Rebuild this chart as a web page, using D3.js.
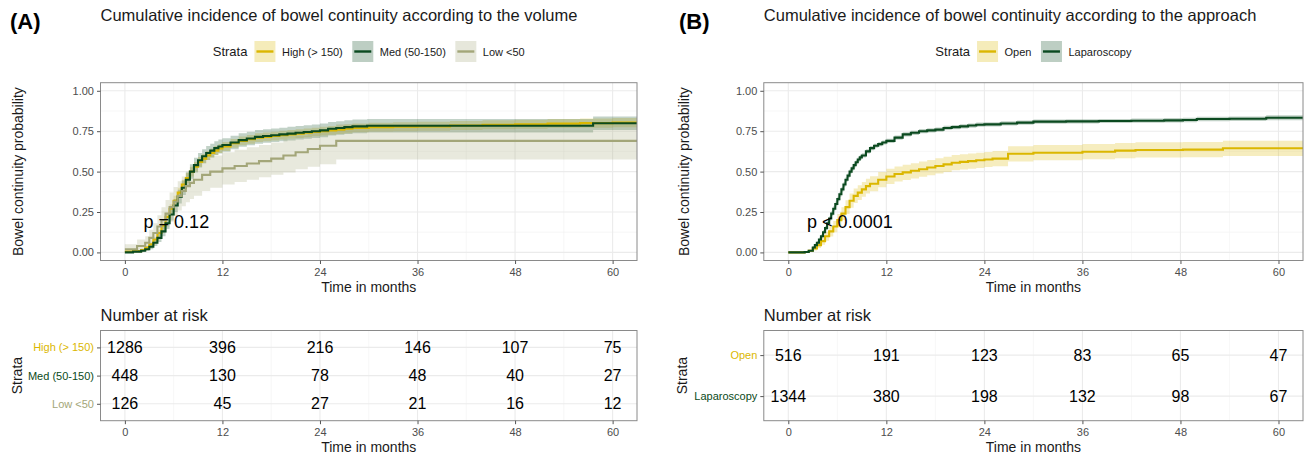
<!DOCTYPE html>
<html><head><meta charset="utf-8">
<script src="https://cdn.jsdelivr.net/npm/d3@7"></script>
<style>body{margin:0;background:#fff;} text{font-family:"Liberation Sans", Arial, Helvetica, sans-serif;}</style>
</head><body><svg id="c" width="1306" height="456"></svg>
<script>
// ---------- shared ----------
const timeBreaks = [0, 12, 24, 36, 48, 60];
const timeMinor = [6, 18, 30, 42, 54];
const probBreaks = [0, 0.25, 0.5, 0.75, 1];
const probMinor = [0.125, 0.375, 0.625, 0.875];

// ---------- Panel A: volume ----------
const volStrata = ["High (> 150)", "Med (50-150)", "Low <50"];
const highT  = [0,1,2,2.5,3,3.5,4,4.5,5,5.5,6,6.5,7,7.5,8,8.5,9,9.5,10,10.5,11,11.5,12,13,14,15,16,17,18,19,20,21,22,23,24,25,26,27,28,30,33,36,40,44,48,52,56,60,63];
const highS  = [0.005,0.008,0.015,0.03,0.05,0.08,0.12,0.165,0.22,0.27,0.32,0.37,0.42,0.46,0.50,0.53,0.56,0.58,0.60,0.615,0.63,0.643,0.655,0.675,0.69,0.70,0.71,0.715,0.72,0.725,0.73,0.735,0.74,0.745,0.75,0.755,0.76,0.765,0.77,0.775,0.778,0.78,0.785,0.79,0.793,0.797,0.80,0.803,0.803];
const highLo = [0,0.002,0.008,0.02,0.038,0.065,0.10,0.142,0.195,0.242,0.29,0.34,0.39,0.43,0.47,0.50,0.53,0.551,0.572,0.587,0.602,0.615,0.627,0.648,0.663,0.673,0.683,0.688,0.693,0.698,0.703,0.708,0.713,0.718,0.723,0.728,0.733,0.738,0.743,0.748,0.75,0.752,0.757,0.762,0.765,0.769,0.772,0.775,0.775];
const highHi = [0.01,0.014,0.022,0.04,0.062,0.095,0.14,0.188,0.245,0.298,0.35,0.40,0.45,0.49,0.53,0.56,0.59,0.609,0.628,0.643,0.658,0.671,0.683,0.702,0.717,0.727,0.737,0.742,0.747,0.752,0.757,0.762,0.767,0.772,0.777,0.782,0.787,0.792,0.797,0.802,0.806,0.808,0.813,0.818,0.821,0.825,0.828,0.831,0.831];

const medT  = [0,1,2,2.5,3,3.5,4,4.5,5,5.5,6,6.5,7,7.5,8,8.5,9,9.5,10,10.5,11,11.5,12,13,14,15,16,17,18,19,20,21,22,23,24,25,26,27,28,29.8,57.6,63];
const medS  = [0,0.005,0.01,0.02,0.035,0.06,0.09,0.13,0.18,0.235,0.29,0.345,0.40,0.45,0.50,0.54,0.57,0.595,0.615,0.63,0.645,0.655,0.665,0.68,0.695,0.705,0.715,0.72,0.725,0.73,0.735,0.74,0.745,0.75,0.755,0.765,0.77,0.775,0.78,0.784,0.799,0.799];
const medLo = [0,0,0.002,0.01,0.02,0.04,0.065,0.1,0.145,0.197,0.25,0.302,0.355,0.405,0.455,0.495,0.525,0.551,0.572,0.587,0.602,0.612,0.623,0.638,0.653,0.663,0.673,0.678,0.683,0.688,0.693,0.698,0.703,0.708,0.713,0.723,0.728,0.733,0.738,0.742,0.757,0.757];
const medHi = [0.005,0.012,0.02,0.032,0.05,0.08,0.115,0.16,0.215,0.273,0.33,0.388,0.445,0.495,0.545,0.585,0.615,0.639,0.658,0.673,0.688,0.698,0.707,0.722,0.737,0.747,0.757,0.762,0.767,0.772,0.777,0.782,0.787,0.792,0.797,0.807,0.812,0.817,0.822,0.826,0.841,0.841];

const lowT  = [0,1.5,2.5,3,3.5,4,4.5,5,5.5,6,6.5,7,7.5,8,8.5,9.5,10.5,12,13.5,15,16.5,18,19.5,21,22.5,24,26,63];
const lowS  = [0.02,0.04,0.06,0.09,0.12,0.16,0.2,0.24,0.28,0.315,0.35,0.38,0.41,0.43,0.45,0.48,0.50,0.52,0.535,0.55,0.565,0.58,0.60,0.62,0.64,0.66,0.69,0.69];
const lowLo = [0,0.01,0.02,0.04,0.06,0.09,0.12,0.155,0.19,0.225,0.26,0.285,0.31,0.33,0.35,0.38,0.40,0.42,0.435,0.45,0.465,0.48,0.495,0.515,0.53,0.545,0.575,0.575];
const lowHi = [0.05,0.08,0.10,0.14,0.18,0.23,0.28,0.325,0.37,0.405,0.44,0.47,0.50,0.525,0.55,0.58,0.60,0.62,0.635,0.65,0.665,0.68,0.70,0.72,0.74,0.76,0.795,0.795];

const riskHigh = [1286, 396, 216, 146, 107, 75];
const riskMed  = [448, 130, 78, 48, 40, 27];
const riskLow  = [126, 45, 27, 21, 16, 12];

// ---------- Panel B: approach ----------
const appStrata = ["Open", "Laparoscopy"];
const openT  = [0,2,2.5,3,3.5,4,4.5,5,5.5,6,6.5,7,7.5,8,8.5,9,9.5,10,11,12,13,14,15,16,17,18,19,20,21,22,23,24,25,26.9,30,36,40,42.5,48.3,53.2,63];
const openS  = [0,0.003,0.01,0.025,0.045,0.07,0.10,0.13,0.16,0.20,0.24,0.28,0.32,0.35,0.37,0.39,0.41,0.425,0.45,0.47,0.485,0.495,0.505,0.515,0.525,0.535,0.545,0.555,0.56,0.565,0.57,0.575,0.58,0.61,0.617,0.623,0.63,0.634,0.636,0.644,0.644];
const openLo = [0,0,0.002,0.012,0.027,0.047,0.072,0.098,0.125,0.162,0.2,0.238,0.276,0.305,0.325,0.345,0.364,0.379,0.403,0.423,0.438,0.448,0.458,0.468,0.478,0.488,0.498,0.508,0.513,0.518,0.523,0.528,0.533,0.563,0.57,0.576,0.583,0.587,0.589,0.597,0.597];
const openHi = [0,0.008,0.018,0.038,0.063,0.093,0.128,0.162,0.195,0.238,0.28,0.322,0.364,0.395,0.415,0.435,0.456,0.471,0.497,0.517,0.532,0.542,0.552,0.562,0.572,0.582,0.592,0.602,0.607,0.612,0.617,0.622,0.627,0.657,0.664,0.67,0.677,0.681,0.683,0.691,0.691];

const lapT  = [0,2,2.5,3,3.25,3.5,3.75,4,4.25,4.5,4.75,5,5.25,5.5,5.75,6,6.25,6.5,6.75,7,7.25,7.5,7.75,8,8.25,8.5,8.75,9,9.5,10,10.5,11,11.5,12,13,14,15,16,17,18,19,20,21,22,23,24,26,28,30,34,38,42,46,48.3,50,54,58.5,63];
const lapS  = [0,0.003,0.01,0.03,0.045,0.06,0.08,0.10,0.125,0.15,0.18,0.21,0.24,0.27,0.30,0.33,0.36,0.39,0.42,0.45,0.475,0.50,0.52,0.54,0.558,0.575,0.588,0.60,0.625,0.645,0.66,0.67,0.68,0.69,0.71,0.73,0.74,0.75,0.755,0.76,0.77,0.775,0.78,0.785,0.79,0.792,0.798,0.803,0.809,0.811,0.813,0.815,0.817,0.819,0.825,0.827,0.833,0.833];
const lapLo = [0,0,0.005,0.022,0.035,0.05,0.068,0.088,0.112,0.137,0.166,0.196,0.225,0.255,0.285,0.315,0.345,0.375,0.405,0.435,0.46,0.486,0.506,0.526,0.544,0.561,0.574,0.587,0.612,0.632,0.647,0.657,0.667,0.677,0.697,0.717,0.727,0.737,0.742,0.747,0.757,0.762,0.767,0.772,0.777,0.779,0.785,0.79,0.796,0.798,0.8,0.802,0.803,0.805,0.811,0.813,0.818,0.818];
const lapHi = [0,0.006,0.015,0.038,0.055,0.07,0.092,0.112,0.138,0.163,0.194,0.224,0.255,0.285,0.315,0.345,0.375,0.405,0.435,0.465,0.49,0.514,0.534,0.554,0.572,0.589,0.602,0.613,0.638,0.658,0.673,0.683,0.693,0.703,0.723,0.743,0.753,0.763,0.768,0.773,0.783,0.788,0.793,0.798,0.803,0.805,0.811,0.816,0.822,0.824,0.826,0.828,0.831,0.833,0.839,0.841,0.848,0.848];

const riskOpen = [516, 191, 123, 83, 65, 47];
const riskLap  = [1344, 380, 198, 132, 98, 67];

// ---------- styles ----------
const YELLOW = "#DBB700", GREEN = "#0B4A20", OLIVE = "#A3A679";

const svg = d3.select("#c");
svg.append("rect").attr("width", 1306).attr("height", 456).attr("fill", "#fff");

function zipSeries(t, s, lo, hi) { return t.map((d, i) => ({t: d, s: s[i], lo: lo[i], hi: hi[i]})); }

function panel(cfg) {
  const g = svg.append("g");
  const top = 82.7, bot = 260.5;
  const x = d3.scaleLinear().domain([-3, 63]).range([cfg.left, cfg.right]);
  const y = d3.scaleLinear().domain([-0.05, 1.05]).range([bot, top]);
  const cx = (cfg.left + cfg.right) / 2;

  // tag + title
  g.append("text").attr("x", cfg.tagX).attr("y", 29).attr("font-size", 22).attr("font-weight", "bold").attr("fill", "#000").text(cfg.tag);
  g.append("text").attr("x", cfg.left).attr("y", 21).attr("font-size", 16.5).attr("fill", "#1a1a1a").text(cfg.title);

  // legend (flow layout, centred on the panel)
  const lg = g.append("g");
  let lx = 0;
  const lt = lg.append("text").attr("x", lx).attr("y", 56).attr("font-size", 13).attr("fill", "#1a1a1a").text("Strata");
  lx += lt.node().getComputedTextLength() + 7;
  cfg.strata.forEach((name, i) => {
    lg.append("rect").attr("x", lx).attr("y", 41).attr("width", 21).attr("height", 21)
      .attr("fill", cfg.colors[i]).attr("fill-opacity", 0.27);
    lg.append("line").attr("x1", lx + 2).attr("x2", lx + 19).attr("y1", 51.5).attr("y2", 51.5)
      .attr("stroke", cfg.colors[i]).attr("stroke-width", 2.4);
    lx += 21 + 6.5;
    const t = lg.append("text").attr("x", lx).attr("y", 55.5).attr("font-size", 11).attr("fill", "#1a1a1a").text(name);
    lx += t.node().getComputedTextLength() + (i < cfg.strata.length - 1 ? 9.5 : 0);
  });
  lg.attr("transform", `translate(${cx - lx / 2},0)`);

  // grid
  const grid = g.append("g");
  grid.selectAll(".ym").data(probMinor).join("line").attr("x1", cfg.left).attr("x2", cfg.right)
    .attr("y1", d => y(d)).attr("y2", d => y(d)).attr("stroke", "#F2F2F2").attr("stroke-width", 0.6);
  grid.selectAll(".xm").data(timeMinor).join("line").attr("y1", top).attr("y2", bot)
    .attr("x1", d => x(d)).attr("x2", d => x(d)).attr("stroke", "#F2F2F2").attr("stroke-width", 0.6);
  grid.selectAll(".yM").data(probBreaks).join("line").attr("x1", cfg.left).attr("x2", cfg.right)
    .attr("y1", d => y(d)).attr("y2", d => y(d)).attr("stroke", "#EBEBEB").attr("stroke-width", 1.1);
  grid.selectAll(".xM").data(timeBreaks).join("line").attr("y1", top).attr("y2", bot)
    .attr("x1", d => x(d)).attr("x2", d => x(d)).attr("stroke", "#EBEBEB").attr("stroke-width", 1.1);

  // clip
  const cid = "clip" + cfg.tag.replace(/\W/g, "");
  svg.append("clipPath").attr("id", cid).append("rect")
    .attr("x", cfg.left).attr("y", top).attr("width", cfg.right - cfg.left).attr("height", bot - top);
  const plot = g.append("g").attr("clip-path", `url(#${cid})`);

  const area = d3.area().curve(d3.curveStepAfter).x(d => x(d.t)).y0(d => y(d.lo)).y1(d => y(d.hi));
  const line = d3.line().curve(d3.curveStepAfter).x(d => x(d.t)).y(d => y(d.s));
  cfg.curves.forEach((c, i) => {
    plot.append("path").attr("d", area(c)).attr("fill", cfg.colors[i]).attr("fill-opacity", 0.25).attr("stroke", "none");
  });
  cfg.curves.forEach((c, i) => {
    plot.append("path").attr("d", line(c)).attr("fill", "none").attr("stroke", cfg.colors[i]).attr("stroke-width", 2.1);
  });

  // p-value
  g.append("text").attr("x", x(2.3)).attr("y", 228).attr("font-size", 18).attr("fill", "#000").text(cfg.pval);

  // border
  g.append("rect").attr("x", cfg.left).attr("y", top).attr("width", cfg.right - cfg.left).attr("height", bot - top)
    .attr("fill", "none").attr("stroke", "#8a8a8a").attr("stroke-width", 1);

  // axes
  const ya = g.append("g").attr("transform", `translate(${cfg.left},0)`)
    .call(d3.axisLeft(y).tickValues(probBreaks).tickFormat(d3.format(".2f")).tickSize(3.5).tickPadding(3));
  const xa = g.append("g").attr("transform", `translate(0,${bot})`)
    .call(d3.axisBottom(x).tickValues(timeBreaks).tickSize(3.5).tickPadding(4.5));
  [ya, xa].forEach(a => {
    a.select(".domain").remove();
    a.selectAll("line").attr("stroke", "#555");
    a.selectAll("text").attr("font-size", 11).attr("fill", "#4D4D4D").attr("font-family", null);
  });
  g.append("text").attr("x", cx).attr("y", 291.5).attr("text-anchor", "middle").attr("font-size", 14).attr("fill", "#1a1a1a").text("Time in months");
  g.append("text").attr("transform", `translate(${cfg.ytitleX},${(top + bot) / 2}) rotate(-90)`)
    .attr("text-anchor", "middle").attr("font-size", 14).attr("fill", "#1a1a1a").text("Bowel continuity probability");

  // ---------- risk table ----------
  const rt = 330.5, rb = 420.7;
  const ry = d3.scalePoint().domain(cfg.strata).range([rt, rb]).padding(0.6);
  g.append("text").attr("x", cfg.left).attr("y", 320.5).attr("font-size", 16.5).attr("fill", "#1a1a1a").text("Number at risk");
  const rg = g.append("g");
  rg.selectAll(".rxm").data(timeMinor).join("line").attr("y1", rt).attr("y2", rb)
    .attr("x1", d => x(d)).attr("x2", d => x(d)).attr("stroke", "#F2F2F2").attr("stroke-width", 0.6);
  rg.selectAll(".ryM").data(cfg.strata).join("line").attr("x1", cfg.left).attr("x2", cfg.right)
    .attr("y1", d => ry(d)).attr("y2", d => ry(d)).attr("stroke", "#EBEBEB").attr("stroke-width", 1.1);
  rg.selectAll(".rxM").data(timeBreaks).join("line").attr("y1", rt).attr("y2", rb)
    .attr("x1", d => x(d)).attr("x2", d => x(d)).attr("stroke", "#EBEBEB").attr("stroke-width", 1.1);
  cfg.risk.forEach((row, i) => {
    rg.selectAll(null).data(row).join("text")
      .attr("x", (d, j) => x(timeBreaks[j])).attr("y", ry(cfg.strata[i]) + 5.6)
      .attr("text-anchor", "middle").attr("font-size", 16).attr("fill", "#000").text(d => d);
  });
  g.append("rect").attr("x", cfg.left).attr("y", rt).attr("width", cfg.right - cfg.left).attr("height", rb - rt)
    .attr("fill", "none").attr("stroke", "#8a8a8a").attr("stroke-width", 1);
  const rya = g.append("g").attr("transform", `translate(${cfg.left},0)`)
    .call(d3.axisLeft(ry).tickSize(3.5).tickPadding(3));
  rya.select(".domain").remove();
  rya.selectAll("line").attr("stroke", "#555");
  rya.selectAll("text").attr("font-size", 11).attr("font-family", null).attr("fill", (d, i) => cfg.colors[i]);
  const rxa = g.append("g").attr("transform", `translate(0,${rb})`)
    .call(d3.axisBottom(x).tickValues(timeBreaks).tickSize(3.5).tickPadding(4));
  rxa.select(".domain").remove();
  rxa.selectAll("line").attr("stroke", "#555");
  rxa.selectAll("text").attr("font-size", 11).attr("fill", "#4D4D4D").attr("font-family", null);
  g.append("text").attr("x", cx).attr("y", 451.5).attr("text-anchor", "middle").attr("font-size", 14).attr("fill", "#1a1a1a").text("Time in months");
  g.append("text").attr("transform", `translate(${cfg.stitleX},${(rt + rb) / 2}) rotate(-90)`)
    .attr("text-anchor", "middle").attr("font-size", 14).attr("fill", "#1a1a1a").text("Strata");
}

panel({
  tag: "(A)", tagX: 10, left: 100.5, right: 637, ytitleX: 23.2, stitleX: 21.5,
  title: "Cumulative incidence of bowel continuity according to the volume",
  strata: volStrata, colors: [YELLOW, GREEN, OLIVE],
  curves: [zipSeries(highT, highS, highLo, highHi), zipSeries(medT, medS, medLo, medHi), zipSeries(lowT, lowS, lowLo, lowHi)],
  pval: "p = 0.12",
  risk: [riskHigh, riskMed, riskLow]
});
panel({
  tag: "(B)", tagX: 679, left: 763.8, right: 1303, ytitleX: 688.9, stitleX: 687,
  title: "Cumulative incidence of bowel continuity according to the approach",
  strata: appStrata, colors: [YELLOW, GREEN],
  curves: [zipSeries(openT, openS, openLo, openHi), zipSeries(lapT, lapS, lapLo, lapHi)],
  pval: "p < 0.0001",
  risk: [riskOpen, riskLap]
});
</script>
</body></html>
